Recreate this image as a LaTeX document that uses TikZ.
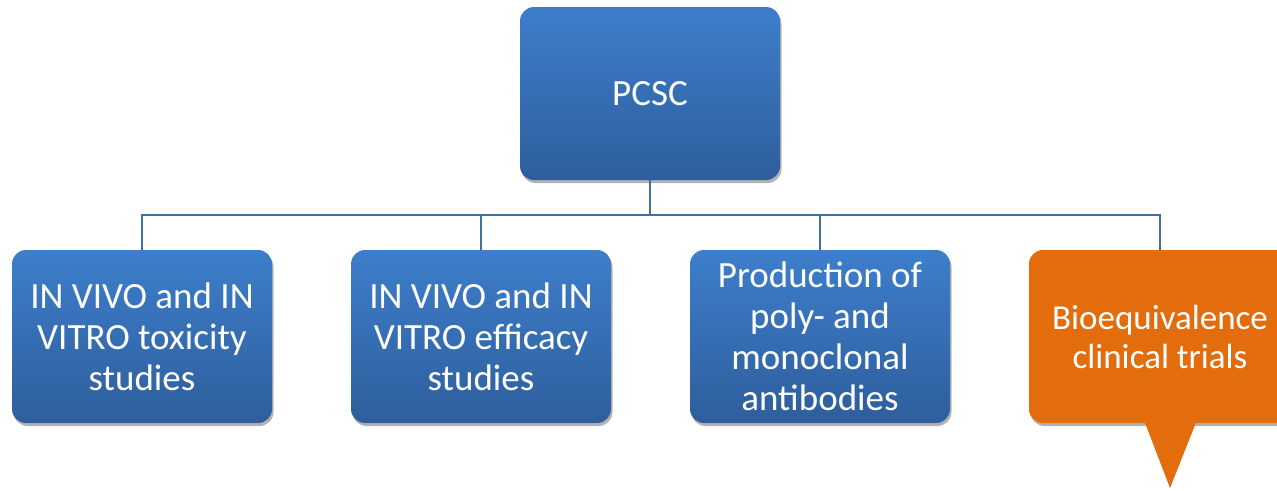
\documentclass[tikz,border=0pt]{standalone}
\usepackage{fontspec}
\setmainfont{Carlito}
\usetikzlibrary{shadows}

\definecolor{boxtop}{RGB}{61,126,203}
\definecolor{boxbot}{RGB}{46,94,156}
\definecolor{linkblue}{RGB}{65,113,156}
\definecolor{callorange}{RGB}{227,108,12}

\begin{document}
\begin{tikzpicture}[x=1pt,y=-1pt,
  every node/.style={font=\fontsize{37}{41}\selectfont, text=white, align=center},
  bluebox/.style={rounded corners=14, minimum width=260, minimum height=173,
    top color=boxtop, bottom color=boxbot,
    drop shadow={shadow xshift=1.5pt, shadow yshift=-3pt, opacity=.3, fill=black}},
  link/.style={linkblue, line width=2}]

\useasboundingbox (0,0) rectangle (1277,490);

% boxes
\node [bluebox] (pcsc) at (650,93.5) {PCSC};
\node [bluebox] (tox) at (142,336.5) {IN VIVO and IN\\VITRO toxicity\\studies};
\node [bluebox] (eff) at (481,336.5) {IN VIVO and IN\\VITRO efficacy\\studies};
\node [bluebox] (mab) at (820,336.5) {Production of\\poly- and\\monoclonal\\antibodies};

% callout
\fill [callorange, rounded corners=14,
  drop shadow={shadow xshift=1.5pt, shadow yshift=-3pt, opacity=.3, fill=black}]
  (1029,250) rectangle (1310,423);
\fill [callorange] (1142,415) -- (1170,488) -- (1199,415) -- cycle;
\node [font=\fontsize{35}{39}\selectfont] (bioeq) at (1160,336.5) {Bioequivalence\\clinical trials};

% connectors
\coordinate (bus) at (650,215);
\draw [link] (pcsc.south) -- (bus);
\draw [link] (tox.north) |- (bus);
\draw [link] (eff.north) |- (bus);
\draw [link] (mab.north) |- (bus);
\draw [link] (bioeq |- tox.north) |- (bus);

\end{tikzpicture}
\end{document}
